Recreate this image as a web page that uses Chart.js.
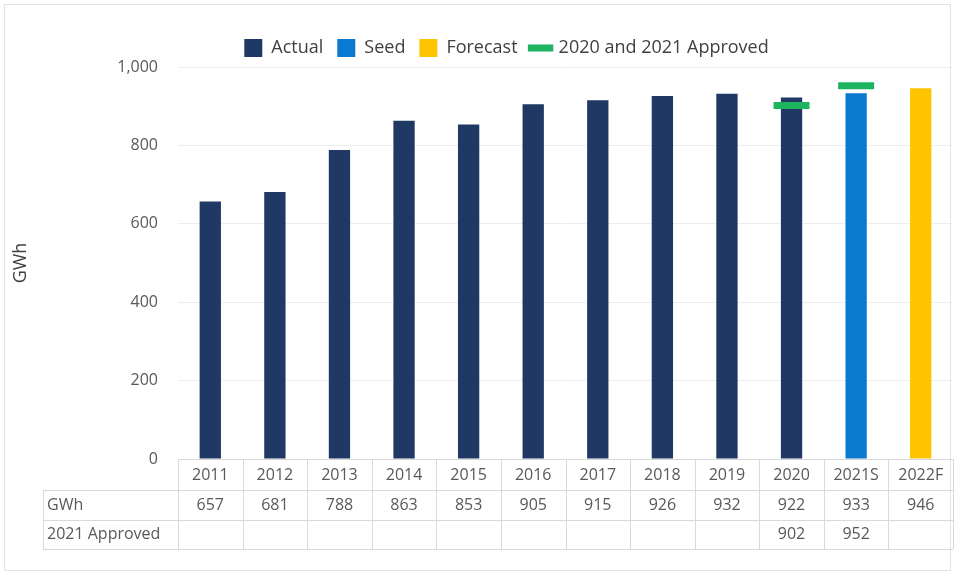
<!DOCTYPE html>
<html>
<head>
<meta charset="utf-8">
<script src="https://cdn.jsdelivr.net/npm/chart.js@4.4.1/dist/chart.umd.min.js"></script>
<style>
  html, body { margin: 0; padding: 0; background: #ffffff; }
  #wrap { width: 956px; height: 574px; }
</style>
</head>
<body>
<div id="wrap"><canvas id="gwhChart" width="956" height="574"></canvas></div>
<script>
// Annual energy (GWh)
const years = ['2011', '2012', '2013', '2014', '2015', '2016', '2017', '2018', '2019', '2020', '2021S', '2022F'];
const actual = [657, 681, 788, 863, 853, 905, 915, 926, 932, 922, null, null];
const seed = [null, null, null, null, null, null, null, null, null, null, 933, null];
const forecast = [null, null, null, null, null, null, null, null, null, null, null, 946];
const approved = [null, null, null, null, null, null, null, null, null, 902, 952, null];
const yTicks = [0, 200, 400, 600, 800, 1000];

const textColor = '#595959';
const lineColor = '#d9d9d9';
const fontFamily = "'Open Sans', 'Liberation Sans', sans-serif";

// value shown in the GWh row: whichever bar series has the year
const gwhRow = years.map((y, i) => actual[i] ?? seed[i] ?? forecast[i]);

// Outer frame around the whole graphic
const framePlugin = {
  id: 'frame',
  beforeDraw(chart) {
    const ctx = chart.ctx;
    ctx.save();
    ctx.strokeStyle = '#e3e3e3';
    ctx.lineWidth = 1;
    ctx.strokeRect(4.5, 4.5, 946, 566);
    ctx.restore();
  }
};

// Data table under the bars: year header, GWh row, 2021 Approved row
const tablePlugin = {
  id: 'dataTable',
  afterDraw(chart) {
    const ctx = chart.ctx;
    const x = chart.scales.x;
    const area = chart.chartArea;
    const colW = (area.right - area.left) / years.length;
    const top = area.bottom;
    const rowH = [31, 30, 29];
    const r1 = top + rowH[0];
    const r2 = r1 + rowH[1];
    const r3 = r2 + rowH[2];
    const labelLeft = 43;

    ctx.save();
    ctx.strokeStyle = lineColor;
    ctx.lineWidth = 1;
    ctx.beginPath();
    // horizontal lines
    ctx.moveTo(area.left, top + 0.5); ctx.lineTo(area.right, top + 0.5);
    [r1, r2, r3].forEach(yy => {
      ctx.moveTo(labelLeft, Math.round(yy) + 0.5);
      ctx.lineTo(area.right, Math.round(yy) + 0.5);
    });
    // vertical lines
    ctx.moveTo(labelLeft + 0.5, r1); ctx.lineTo(labelLeft + 0.5, r3);
    for (let i = 0; i <= years.length; i++) {
      const xx = Math.round(area.left + i * colW) + 0.5;
      ctx.moveTo(xx, top); ctx.lineTo(xx, r3);
    }
    ctx.stroke();

    ctx.fillStyle = textColor;
    ctx.font = '16px ' + fontFamily;
    ctx.textBaseline = 'middle';
    ctx.textAlign = 'left';
    ctx.fillText('GWh', labelLeft + 4, (r1 + r2) / 2);
    ctx.fillText('2021 Approved', labelLeft + 4, (r2 + r3) / 2);

    ctx.textAlign = 'center';
    years.forEach((y, i) => {
      const cx = x.getPixelForValue(i);
      ctx.fillText(y, cx, (top + r1) / 2 + 1);
      if (gwhRow[i] != null) ctx.fillText(String(gwhRow[i]), cx, (r1 + r2) / 2);
      if (approved[i] != null) ctx.fillText(String(approved[i]), cx, (r2 + r3) / 2);
    });
    ctx.restore();
  }
};

const barCommon = {
  type: 'bar',
  grouped: false,
  barPercentage: 0.33,
  categoryPercentage: 1,
  borderWidth: 0,
  pointStyle: 'rect'
};

new Chart(document.getElementById('gwhChart'), {
  data: {
    labels: years,
    datasets: [
      { ...barCommon, label: 'Actual', data: actual, backgroundColor: '#203864', order: 2 },
      { ...barCommon, label: 'Seed', data: seed, backgroundColor: '#0a7ad0', order: 2 },
      { ...barCommon, label: 'Forecast', data: forecast, backgroundColor: '#ffc400', order: 2 },
      {
        type: 'line',
        label: '2020 and 2021 Approved',
        data: approved,
        showLine: false,
        pointStyle: 'line',
        pointRadius: 18,
        pointHoverRadius: 18,
        borderWidth: 7,
        borderColor: '#1db35f',
        backgroundColor: '#1db35f',
        order: 1
      }
    ]
  },
  options: {
    responsive: false,
    animation: false,
    layout: { autoPadding: false, padding: { top: 25, left: 60, right: 3, bottom: 0 } },
    plugins: {
      legend: {
        position: 'top',
        labels: {
          usePointStyle: true,
          boxHeight: 20,
          padding: 14,
          color: '#404040',
          font: { size: 18, family: fontFamily },
          sort: (a, b) => a.datasetIndex - b.datasetIndex
        }
      },
      tooltip: { enabled: false }
    },
    scales: {
      x: {
        ticks: { display: false },
        grid: { display: false },
        border: { display: false },
        afterFit: (scale) => { scale.height = 115; }
      },
      y: {
        min: 0,
        max: 1000,
        afterBuildTicks: (scale) => { scale.ticks = yTicks.map(v => ({ value: v })); },
        afterFit: (scale) => { scale.width = 118; },
        ticks: {
          padding: 20,
          color: textColor,
          font: { size: 16, family: fontFamily },
          callback: (v) => v.toLocaleString('en-US')
        },
        grid: { color: '#ededed', drawTicks: false },
        border: { display: false },
        title: {
          display: true,
          text: 'GWh',
          color: '#404040',
          padding: { top: -50, bottom: 0 },
          font: { size: 18, family: fontFamily }
        }
      }
    }
  },
  plugins: [framePlugin, tablePlugin]
});
</script>
</body>
</html>
